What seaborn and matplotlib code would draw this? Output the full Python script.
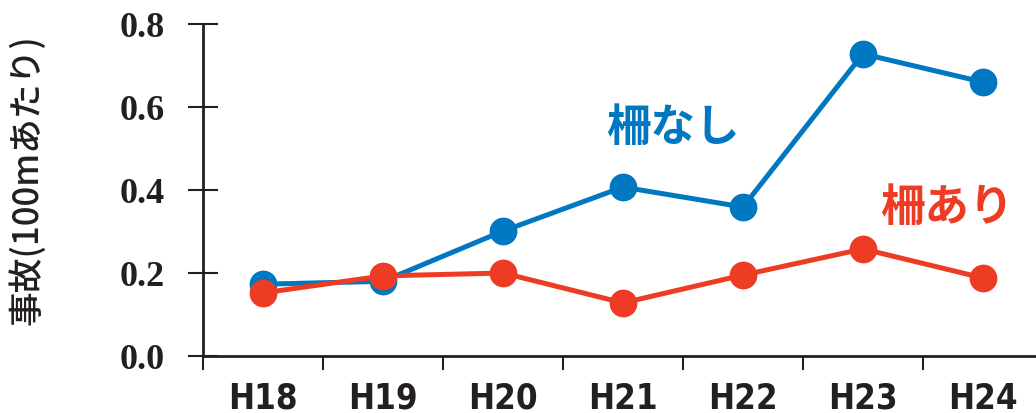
import matplotlib
matplotlib.use("Agg")
import matplotlib.pyplot as plt
import seaborn as sns
import pandas as pd
from matplotlib.ticker import FixedLocator

years = ["H18", "H19", "H20", "H21", "H22", "H23", "H24"]
no_fence = [0.173, 0.180, 0.301, 0.407, 0.359, 0.728, 0.660]
with_fence = [0.152, 0.193, 0.200, 0.128, 0.195, 0.258, 0.188]
series_names = ["柵なし", "柵あり"]
y_ticks = [0.0, 0.2, 0.4, 0.6, 0.8]
y_label = "事故(100mあたり)"

blue = "#0077C1"
red = "#EE3B24"

sns.set_theme(style="white")
plt.rcParams["font.family"] = ["Noto Sans CJK JP", "DejaVu Sans"]

df = pd.DataFrame({
    "year": years * 2,
    "value": no_fence + with_fence,
    "series": [series_names[0]] * len(years) + [series_names[1]] * len(years),
})

fig = plt.figure(figsize=(10.36, 4.14), dpi=100)
ax = fig.add_axes([203 / 1036, 57 / 414, 840 / 1036, 332 / 414])

sns.lineplot(data=df, x="year", y="value", hue="series",
             palette={series_names[0]: blue, series_names[1]: red},
             marker="o", markersize=20, markeredgewidth=0, linewidth=3.6,
             legend=False, ax=ax, sort=False)

ax.set_xlim(-0.5, len(years) - 0.5)
ax.set_ylim(0, 0.8)
ax.set_yticks(y_ticks)
ax.set_yticklabels([f"{v:.1f}" for v in y_ticks],
                   fontfamily="Liberation Serif", fontweight="bold", fontsize=26,
                   color="#231F20")
ax.set_xticks(range(len(years)))
ax.set_xticklabels(years, fontfamily="DejaVu Sans", fontstretch="condensed",
                   fontweight="bold", fontsize=25, color="#231F20")
ax.xaxis.set_minor_locator(FixedLocator([i - 0.5 for i in range(len(years) + 1)]))
ax.tick_params(axis="x", which="major", length=0, pad=18)
ax.tick_params(axis="x", which="minor", length=10, width=1.5, color="#231F20", direction="out", bottom=True)
ax.tick_params(axis="y", which="major", length=21, width=1.5, color="#231F20", direction="inout", pad=17, left=True)

ax.set_xlabel("")
ax.set_ylabel(y_label, fontsize=25, fontweight="medium", color="#231F20")
ax.yaxis.set_label_coords(-0.187, 0.533)

for side in ["top", "right"]:
    ax.spines[side].set_visible(False)
for side in ["left", "bottom"]:
    ax.spines[side].set_color("#231F20")
    ax.spines[side].set_linewidth(2)

ax.text(3.417, 0.552, series_names[0], color=blue, fontsize=32, fontweight="bold",
        ha="center", va="center")
ax.text(5.70, 0.359, series_names[1], color=red, fontsize=32, fontweight="bold",
        ha="center", va="center")

fig.savefig("out.png", dpi=100)
